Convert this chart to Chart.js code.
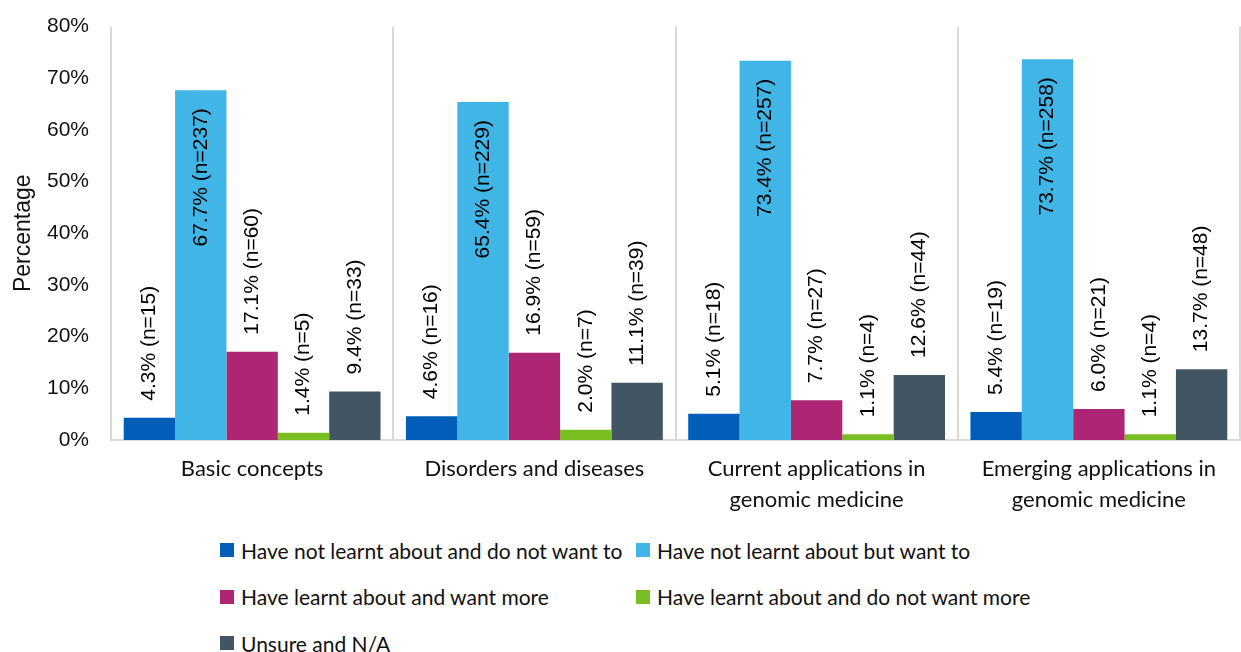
<!DOCTYPE html>
<html>
<head>
<meta charset="utf-8">
<script src="https://cdn.jsdelivr.net/npm/chart.js@4.4.1/dist/chart.umd.min.js"></script>
<style>
  html, body { margin:0; padding:0; background:#fff; }
  #wrap { position:relative; width:1241px; height:652px; overflow:hidden; }
  #chartBox { position:absolute; left:0; top:0; width:1241px; height:520px; }
  #legend { position:absolute; left:220px; top:527px; display:grid; grid-template-columns:416px auto; grid-auto-rows:46.5px; }
  .lg-item { display:flex; align-items:center; font:21px Lato, "Open Sans", sans-serif; color:#111; white-space:nowrap; }
  .lg-sw { width:14px; height:14px; margin-right:7px; flex:none; }
</style>
</head>
<body>
<div id="wrap">
  <div id="chartBox"><canvas id="chartLearn"></canvas></div>
  <div id="legend"></div>
</div>
<script>
const categories = [
  'Basic concepts',
  'Disorders and diseases',
  ['Current applications in', 'genomic medicine'],
  ['Emerging applications in', 'genomic medicine']
];
const seriesNames = [
  'Have not learnt about and do not want to',
  'Have not learnt about but want to',
  'Have learnt about and want more',
  'Have learnt about and do not want more',
  'Unsure and N/A'
];
const seriesColors = ['#005EB8', '#41B6E6', '#AE2573', '#78BE20', '#425563'];

// percentages per series, one value per category
const notLearntNoPct   = [4.3, 4.6, 5.1, 5.4];
const notLearntWantPct = [67.7, 65.4, 73.4, 73.7];
const learntMorePct    = [17.1, 16.9, 7.7, 6.0];
const learntNoMorePct  = [1.4, 2.0, 1.1, 1.1];
const unsurePct        = [9.4, 11.1, 12.6, 13.7];

// respondent counts behind each percentage
const notLearntNoN   = [15, 16, 18, 19];
const notLearntWantN = [237, 229, 257, 258];
const learntMoreN    = [60, 59, 27, 21];
const learntNoMoreN  = [5, 7, 4, 4];
const unsureN        = [33, 39, 44, 48];

const yTicksMax = 80, yTicksStep = 10;

const pctSets = [notLearntNoPct, notLearntWantPct, learntMorePct, learntNoMorePct, unsurePct];
const countSets = [notLearntNoN, notLearntWantN, learntMoreN, learntNoMoreN, unsureN];

// vertical "pct% (n=..)" labels; moved inside the bar when they would run off the top
const barLabels = {
  id: 'barLabels',
  afterDatasetsDraw(chart) {
    const ctx = chart.ctx, top = chart.chartArea.top;
    ctx.save();
    ctx.font = '21px "Liberation Sans", Arial, sans-serif';
    ctx.fillStyle = '#000';
    ctx.textBaseline = 'middle';
    chart.data.datasets.forEach((ds, i) => {
      chart.getDatasetMeta(i).data.forEach((bar, j) => {
        const txt = ds.data[j].toFixed(1) + '% (n=' + ds.counts[j] + ')';
        const w = ctx.measureText(txt).width;
        ctx.save();
        ctx.translate(bar.x, bar.y);
        ctx.rotate(-Math.PI / 2);
        if (bar.y - 17 - w < top) { ctx.textAlign = 'right'; ctx.fillText(txt, -18, 0); }
        else { ctx.textAlign = 'left'; ctx.fillText(txt, 17, 0); }
        ctx.restore();
      });
    });
    ctx.restore();
  }
};

const chart = new Chart(document.getElementById('chartLearn'), {
  type: 'bar',
  data: {
    labels: categories,
    datasets: seriesNames.map((name, i) => ({
      label: name,
      data: pctSets[i],
      counts: countSets[i],
      backgroundColor: seriesColors[i],
      borderWidth: 0,
      categoryPercentage: 0.91,
      barPercentage: 1
    }))
  },
  options: {
    responsive: true,
    maintainAspectRatio: false,
    animation: false,
    layout: { padding: { top: 11, right: 1, bottom: 0, left: 0 } },
    plugins: { legend: { display: false }, tooltip: { enabled: false } },
    scales: {
      x: {
        grid: { display: true, offset: true, color: '#d9d9d9', lineWidth: 2, drawTicks: false },
        border: { display: true, color: '#d9d9d9', width: 2 },
        ticks: { color: '#111', font: { family: 'Lato, "Open Sans", sans-serif', size: 22, lineHeight: 1.4 }, padding: 14, maxRotation: 0, autoSkip: false },
        afterFit: s => { s.height = 80; }
      },
      y: {
        min: 0, max: yTicksMax,
        grid: { display: false },
        border: { display: false },
        ticks: { stepSize: yTicksStep, color: '#111', padding: 14, font: { family: '"Liberation Sans", Arial, sans-serif', size: 21 }, callback: v => v + '%' },
        title: { display: true, text: 'Percentage', color: '#111', font: { family: '"Liberation Sans", Arial, sans-serif', size: 23 }, padding: { top: 10, bottom: 0 } },
        afterFit: s => { s.width = 111; }
      }
    }
  },
  plugins: [barLabels]
});

// legend laid out as a two-column grid under the chart
document.getElementById('legend').innerHTML = chart.data.datasets.map(ds =>
  `<div class="lg-item"><span class="lg-sw" style="background:${ds.backgroundColor}"></span>${ds.label}</div>`
).join('');
</script>
</body>
</html>
